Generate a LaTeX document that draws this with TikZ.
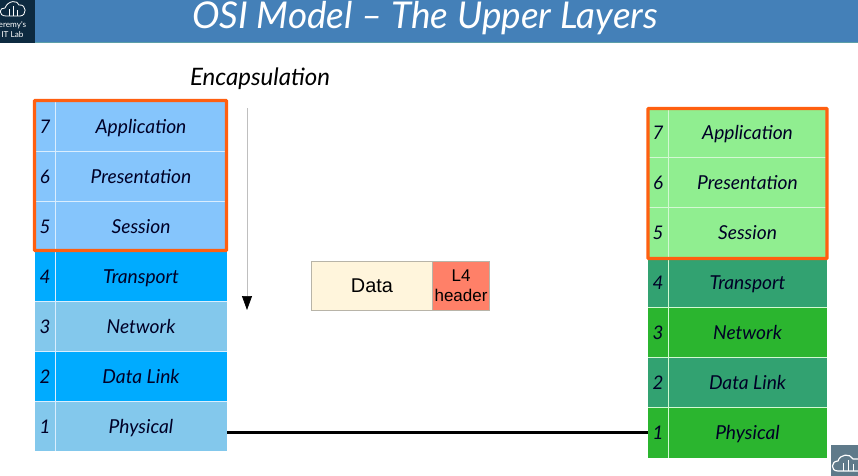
\documentclass[tikz,border=0pt]{standalone}
\usepackage{fontspec}
\setmainfont{Liberation Sans}
\newfontfamily\handfont{Lato}
\usetikzlibrary{arrows.meta}
\definecolor{bannerblue}{HTML}{4480B8}
\definecolor{bannerteal}{HTML}{5C9EA8}
\definecolor{logonavy}{HTML}{0D2A40}
\definecolor{iconslate}{HTML}{5F7A8A}
\definecolor{upperblue}{HTML}{85C5FC}
\definecolor{deepblue}{HTML}{00ABFF}
\definecolor{paleblue}{HTML}{83C8EC}
\definecolor{uppergreen}{HTML}{90EE90}
\definecolor{deepgreen}{HTML}{32A271}
\definecolor{brightgreen}{HTML}{2BB52F}
\definecolor{datacream}{HTML}{FFF5DC}
\definecolor{headerred}{HTML}{FF8068}
\definecolor{edgegray}{HTML}{B8B4A8}
\definecolor{boxorange}{HTML}{FF5F10}
\tikzset{
    numcell/.style={minimum width=0.6cm, minimum height=1.5cm, inner sep=0pt, text height=14pt, text depth=2pt, font=\handfont\itshape\fontsize{16}{16}\selectfont, text=black!85!blue},
    leftname/.style={minimum width=5.76cm, minimum height=1.5cm, inner sep=0pt, text height=14pt, text depth=2pt, font=\handfont\itshape\fontsize{16.4}{16.4}\selectfont, text=black!85!blue},
    rightname/.style={minimum width=5.37cm, minimum height=1.5cm, inner sep=0pt, text height=14pt, text depth=2pt, font=\handfont\itshape\fontsize{16.4}{16.4}\selectfont, text=black!85!blue},
    logoline/.style={white, line width=0.7pt, line join=round}
}
\begin{document}
\begin{tikzpicture}[x=0.03cm, y=-0.03cm]
    \useasboundingbox (0, 0) rectangle (858, 476);

    % Banner
    \node[fill=bannerblue, minimum width=25.74cm, minimum height=1.26cm, inner sep=0pt] (banner) at (429, 21) {};
    \draw[bannerteal, line width=0.8pt] (banner.south west) -- (banner.south east);
    \node[fill=logonavy, minimum width=1.05cm, minimum height=1.29cm, inner sep=0pt] (logo) at (17.5, 21.5) {};
    \node[text=white, inner sep=0pt, font=\handfont\itshape\fontsize{31.5}{31.5}\selectfont] (title) at (425, 18) {OSI Model – The Upper Layers};
    \node[text=white, inner sep=0pt, align=center, font=\handfont\fontsize{7}{8}\selectfont] (logotext) at (12.5, 29.5) {eremy's\\IT Lab};
    \draw[logoline] (6, 16) .. controls (-2, 16) and (-1, 7) .. (5, 8) .. controls (8, 0) and (18, 0) .. (19, 5) .. controls (27, 4) and (27, 16) .. (20, 16) -- cycle;
    \draw[logoline] (9, 16) -- (9, 9) (13, 16) -- (13, 6) (17, 16) -- (17, 10);

    % Left stack
    \node[leftname, fill=upperblue] (lapp) at (131, 126) {\hspace{0.6cm}Application};
    \node[leftname, fill=upperblue] (lpre) at (131, 176) {\hspace{0.6cm}Presentation};
    \node[leftname, fill=upperblue] (lses) at (131, 226) {\hspace{0.6cm}Session};
    \node[leftname, fill=deepblue] (ltra) at (131, 276) {\hspace{0.6cm}Transport};
    \node[leftname, fill=paleblue] (lnet) at (131, 326) {\hspace{0.6cm}Network};
    \node[leftname, fill=deepblue] (ldat) at (131, 376) {\hspace{0.6cm}Data Link};
    \node[leftname, fill=paleblue] (lphy) at (131, 426) {\hspace{0.6cm}Physical};
    \node[numcell] (l7) at (45, 126) {7};
    \node[numcell] (l6) at (45, 176) {6};
    \node[numcell] (l5) at (45, 226) {5};
    \node[numcell] (l4) at (45, 276) {4};
    \node[numcell] (l3) at (45, 326) {3};
    \node[numcell] (l2) at (45, 376) {2};
    \node[numcell] (l1) at (45, 426) {1};
    \draw[white!70!upperblue, line width=0.5pt] (lapp.north west -| l7.east) -- (lphy.south west -| l7.east);
    \draw[white!70!upperblue, line width=0.5pt] (lapp.south west) -- (lapp.south east) (lpre.south west) -- (lpre.south east) (lses.south west) -- (lses.south east) (ltra.south west) -- (ltra.south east) (lnet.south west) -- (lnet.south east) (ldat.south west) -- (ldat.south east);
    \node[draw=boxorange, line width=2.6pt, rounded corners=0.5pt, minimum width=5.76cm, minimum height=4.5cm, inner sep=0pt] (lbox) at (130.5, 175.5) {};

    % Right stack
    \node[rightname, fill=uppergreen] (rapp) at (737.5, 132.5) {\hspace{0.6cm}Application};
    \node[rightname, fill=uppergreen] (rpre) at (737.5, 182.5) {\hspace{0.6cm}Presentation};
    \node[rightname, fill=uppergreen] (rses) at (737.5, 232.5) {\hspace{0.6cm}Session};
    \node[rightname, fill=deepgreen] (rtra) at (737.5, 282.5) {\hspace{0.6cm}Transport};
    \node[rightname, fill=brightgreen] (rnet) at (737.5, 332.5) {\hspace{0.6cm}Network};
    \node[rightname, fill=deepgreen] (rdat) at (737.5, 382.5) {\hspace{0.6cm}Data Link};
    \node[rightname, fill=brightgreen] (rphy) at (737.5, 432.5) {\hspace{0.6cm}Physical};
    \node[numcell] (r7) at (658, 132.5) {7};
    \node[numcell] (r6) at (658, 182.5) {6};
    \node[numcell] (r5) at (658, 232.5) {5};
    \node[numcell] (r4) at (658, 282.5) {4};
    \node[numcell] (r3) at (658, 332.5) {3};
    \node[numcell] (r2) at (658, 382.5) {2};
    \node[numcell] (r1) at (658, 432.5) {1};
    \draw[white!60!uppergreen, line width=0.5pt] (rapp.north west -| r7.east) -- (rphy.south west -| r7.east);
    \draw[white!60!uppergreen, line width=0.5pt] (rapp.south west) -- (rapp.south east) (rpre.south west) -- (rpre.south east) (rses.south west) -- (rses.south east) (rtra.south west) -- (rtra.south east) (rnet.south west) -- (rnet.south east) (rdat.south west) -- (rdat.south east);
    \node[draw=boxorange, line width=2.6pt, rounded corners=0.5pt, minimum width=5.37cm, minimum height=4.5cm, inner sep=0pt] (rbox) at (737.5, 183.5) {};

    % Encapsulation
    \node[inner sep=0pt, font=\handfont\itshape\fontsize{20.5}{20.5}\selectfont] (encap) at (260, 79) {Encapsulation};
    \coordinate (arrowtop) at (247, 108);
    \coordinate (arrowend) at (247, 310);
    \draw[black!25, line width=0.6pt, -{Triangle[black, length=0.42cm, width=0.3cm]}] (arrowtop) -- (arrowend);

    % Data
    \node[draw=edgegray, fill=datacream, minimum width=3.66cm, minimum height=1.46cm, inner sep=0pt, font=\fontsize{17}{17}\selectfont] (data) at (372, 285.5) {Data};
    \node[draw=edgegray, fill=headerred, minimum width=1.71cm, minimum height=1.46cm, inner sep=0pt, align=center, font=\fontsize{14.5}{17.5}\selectfont] (header) at (461, 285.5) {L4\\header};

    % Link
    \coordinate (linkstart) at (lphy.east |- rphy.west);
    \draw[line width=2.6pt] (linkstart) -- (rphy.west);

    % Corner icon
    \node[fill=iconslate, minimum width=0.81cm, minimum height=0.93cm, inner sep=0pt] (icon) at (844.5, 460.5) {};
    \draw[logoline, line width=1pt] (838, 471) .. controls (830, 471) and (831, 461) .. (838, 461) .. controls (840, 454) and (850, 453) .. (853, 459) -- (858, 459) (838, 471) -- (858, 471);
    \draw[logoline] (843, 471) -- (843, 463) (848, 471) -- (848, 460) (853, 471) -- (853, 464);
\end{tikzpicture}
\end{document}
